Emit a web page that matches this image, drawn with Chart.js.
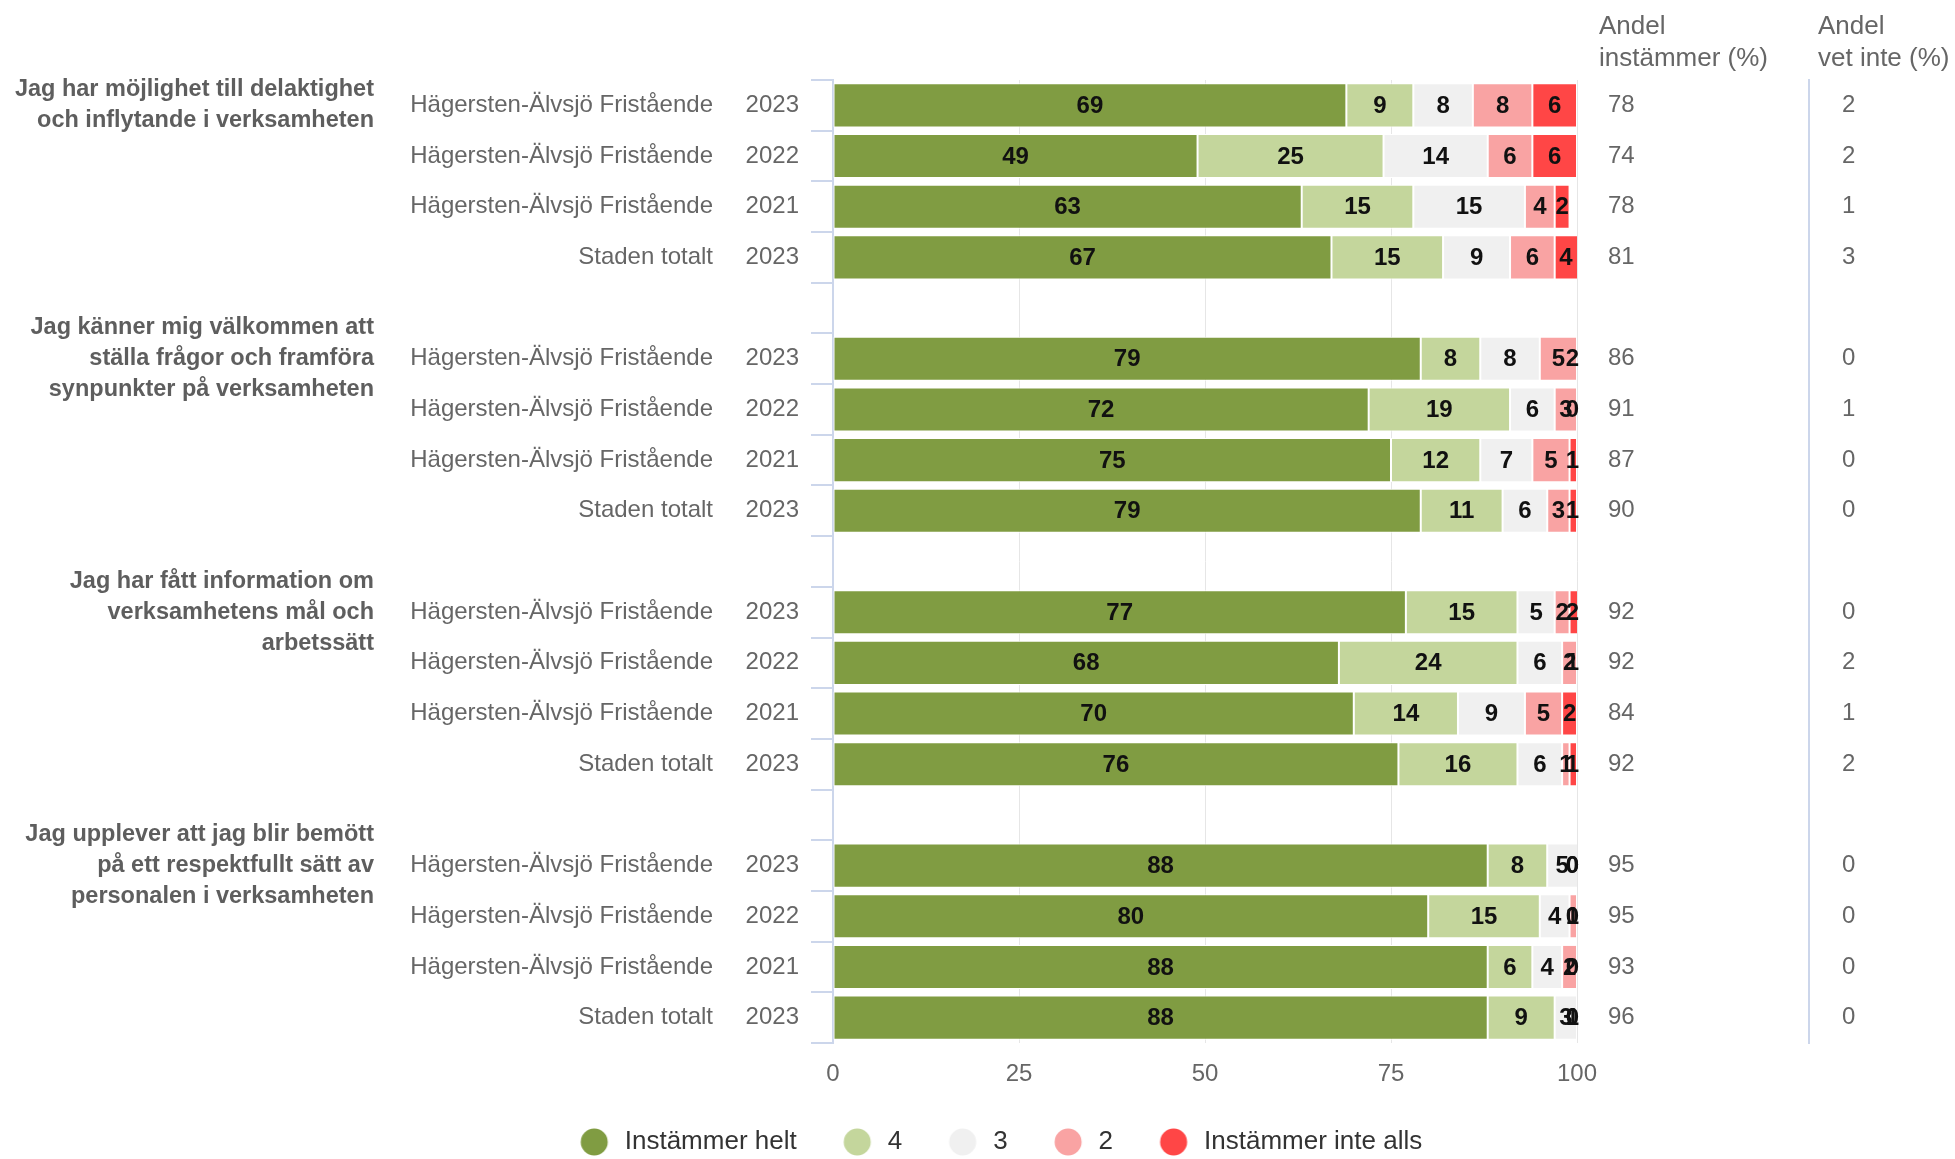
<!DOCTYPE html>
<html lang="sv">
<head>
<meta charset="utf-8">
<title>Delaktighet och inflytande</title>
<script src="https://cdn.jsdelivr.net/npm/chart.js@4.4.1/dist/chart.umd.min.js"></script>
<style>
  html, body { margin: 0; padding: 0; background: #fff; }
  #wrap { position: relative; width: 1955px; height: 1159px; }
</style>
</head>
<body>
<div id="wrap"><canvas id="enkatChart"></canvas></div>
<script>
// Questions, one per group of four bars
const questions = [
  ['Jag har möjlighet till delaktighet', 'och inflytande i verksamheten'],
  ['Jag känner mig välkommen att', 'ställa frågor och framföra', 'synpunkter på verksamheten'],
  ['Jag har fått information om', 'verksamhetens mål och', 'arbetssätt'],
  ['Jag upplever att jag blir bemött', 'på ett respektfullt sätt av', 'personalen i verksamheten']
];
const units = ['Hägersten-Älvsjö Fristående', 'Hägersten-Älvsjö Fristående', 'Hägersten-Älvsjö Fristående', 'Staden totalt'];
const years = ['2023', '2022', '2021', '2023'];

const seriesNames = ['Instämmer helt', '4', '3', '2', 'Instämmer inte alls'];
const seriesColors = ['#809c42', '#c4d69c', '#f0f0f0', '#f9a3a3', '#ff4646'];

// share per answer (%), one value per bar, groups of four
const helt     = [69, 49, 63, 67,  79, 72, 75, 79,  77, 68, 70, 76,  88, 80, 88, 88];
const fyra     = [ 9, 25, 15, 15,   8, 19, 12, 11,  15, 24, 14, 16,   8, 15,  6,  9];
const tre      = [ 8, 14, 15,  9,   8,  6,  7,  6,   5,  6,  9,  6,   5,  4,  4,  3];
const tva      = [ 8,  6,  4,  6,   5,  3,  5,  3,   2,  2,  5,  1,   0,  1,  2,  0];
const inteAlls = [ 6,  6,  2,  4,   2,  0,  1,  1,   2,  1,  2,  1,   0,  0,  0,  1];

const andelInstammer = [78, 74, 78, 81,  86, 91, 87, 90,  92, 92, 84, 92,  95, 95, 93, 96];
const andelVetInte   = [ 2,  2,  1,  3,   0,  1,  0,  0,   0,  2,  1,  2,   0,  0,  0,  0];

const xTicks = [0, 25, 50, 75, 100];

// an empty row goes between the question groups
const groupSize = 4;
function withGaps(values, gap) {
  const out = [];
  values.forEach((v, i) => {
    if (i > 0 && i % groupSize === 0) out.push(gap);
    out.push(v);
  });
  return out;
}

const yearLabels = withGaps(questions.flatMap(() => years), '');
const unitLabels = withGaps(questions.flatMap(() => units), '');
const questionLabels = withGaps(questions.flatMap(q => [q, '', '', '']), '');
const instammerLabels = withGaps(andelInstammer.map(String), '');
const vetInteLabels = withGaps(andelVetInte.map(String), '');
const seriesValues = [helt, fyra, tre, tva, inteAlls];

const FONT = '"Liberation Sans", Arial, Helvetica, sans-serif';
Chart.defaults.font.family = FONT;
Chart.defaults.color = '#666';

// legend dots; the wide point box leaves room on both sides of the dot
const DOT_BOX = 65;
function legendDot(color) {
  const c = document.createElement('canvas');
  c.width = 62;
  c.height = 28;
  const g = c.getContext('2d');
  g.fillStyle = color;
  g.beginPath();
  g.arc(46, 14, 13.5, 0, Math.PI * 2);
  g.fill();
  return c;
}
const legendDots = seriesColors.map(legendDot);

// value written in the middle of each segment, kept inside the plot
const segmentLabels = {
  id: 'segmentLabels',
  afterDatasetsDraw(chart) {
    const { ctx, chartArea } = chart;
    ctx.save();
    ctx.font = 'bold 24px ' + FONT;
    ctx.fillStyle = '#111';
    ctx.textAlign = 'center';
    ctx.textBaseline = 'middle';
    chart.data.datasets.forEach((ds, i) => {
      const meta = chart.getDatasetMeta(i);
      meta.data.forEach((bar, j) => {
        const value = ds.data[j];
        if (value == null) return;
        const left = Math.max(Math.min(bar.base, bar.x), chartArea.left);
        const right = Math.min(Math.max(bar.base, bar.x), chartArea.right);
        const text = String(value);
        const half = ctx.measureText(text).width / 2;
        let x = (left + right) / 2;
        x = Math.min(x, chartArea.right - half + 2);
        ctx.fillText(text, x, bar.y + 1);
      });
    });
    ctx.restore();
  }
};

// headers above the two value columns on the right
const columnHeaders = {
  id: 'columnHeaders',
  afterDraw(chart) {
    const { ctx, scales } = chart;
    ctx.save();
    ctx.font = '26px ' + FONT;
    ctx.fillStyle = '#666';
    ctx.textAlign = 'left';
    ctx.textBaseline = 'middle';
    const heads = [
      [scales.instammer.left + 22, ['Andel', 'instämmer (%)']],
      [scales.vetInte.left + 9, ['Andel', 'vet inte (%)']]
    ];
    heads.forEach(([x, lines]) => {
      lines.forEach((line, k) => ctx.fillText(line, x, 27 + k * 32));
    });
    ctx.restore();
  }
};

const ctx = document.getElementById('enkatChart').getContext('2d');
new Chart(ctx, {
  type: 'bar',
  data: {
    labels: yearLabels,
    datasets: seriesNames.map((name, i) => ({
      label: name,
      data: withGaps(seriesValues[i], null),
      backgroundColor: seriesColors[i],
      borderColor: '#fff',
      borderWidth: 1,
      borderSkipped: false,
      barPercentage: 0.87,
      categoryPercentage: 1
    }))
  },
  options: {
    indexAxis: 'y',
    responsive: true,
    maintainAspectRatio: false,
    animation: false,
    events: [],
    // negative right padding nudges the bottom legend a little to the right
    layout: { padding: { left: 0, right: -14, top: 80, bottom: -6 } },
    scales: {
      x: {
        stacked: true,
        min: 0,
        max: 100,
        afterBuildTicks: (s) => { s.ticks = xTicks.map(v => ({ value: v })); },
        ticks: { padding: 17, color: '#666', font: { size: 24 } },
        grid: { color: '#e6e6e6', drawTicks: false },
        border: { display: false },
        afterFit: (s) => { s.height = 73; }
      },
      y: {
        stacked: true,
        weight: 0,
        ticks: { autoSkip: false, padding: 12, color: '#666', font: { size: 24 } },
        grid: { drawOnChartArea: false, tickLength: 22, color: '#ccd6eb', lineWidth: 2 },
        border: { color: '#ccd6eb', width: 2 },
        afterFit: (s) => { s.width = 110; }
      },
      enhet: {
        type: 'category',
        position: 'left',
        weight: 1,
        labels: unitLabels,
        offset: true,
        ticks: { autoSkip: false, padding: 10, color: '#666', font: { size: 24 } },
        grid: { display: false, drawTicks: false },
        border: { display: false },
        afterFit: (s) => { s.width = 339; }
      },
      fraga: {
        type: 'category',
        position: 'left',
        weight: 2,
        labels: questionLabels,
        offset: true,
        ticks: {
          autoSkip: false,
          padding: 10,
          color: '#5e5e5e',
          font: { size: 23.5, weight: 'bold', lineHeight: 1.32 }
        },
        grid: { display: false, drawTicks: false },
        border: { display: false },
        afterFit: (s) => { s.width = 384; }
      },
      instammer: {
        type: 'category',
        position: 'right',
        weight: 0,
        labels: instammerLabels,
        offset: true,
        ticks: { autoSkip: false, padding: 31, color: '#666', font: { size: 24 } },
        grid: { display: false, drawTicks: false },
        border: { display: false },
        afterFit: (s) => { s.width = 232; }
      },
      vetInte: {
        type: 'category',
        position: 'right',
        weight: 1,
        labels: vetInteLabels,
        offset: true,
        ticks: { autoSkip: false, padding: 33, color: '#666', font: { size: 24 } },
        grid: { display: false, drawTicks: false },
        border: { display: true, color: '#ccd6eb', width: 2 },
        afterFit: (s) => { s.width = 160; }
      }
    },
    plugins: {
      legend: {
        position: 'bottom',
        labels: {
          usePointStyle: true,
          pointStyleWidth: DOT_BOX,
          boxHeight: 19,
          padding: 13,
          color: '#333',
          font: { size: 26 },
          generateLabels(chart) {
            const items = Chart.defaults.plugins.legend.labels.generateLabels(chart);
            items.forEach((item, i) => { item.pointStyle = legendDots[i]; });
            return items;
          }
        }
      },
      tooltip: { enabled: false }
    }
  },
  plugins: [segmentLabels, columnHeaders]
});
</script>
</body>
</html>
